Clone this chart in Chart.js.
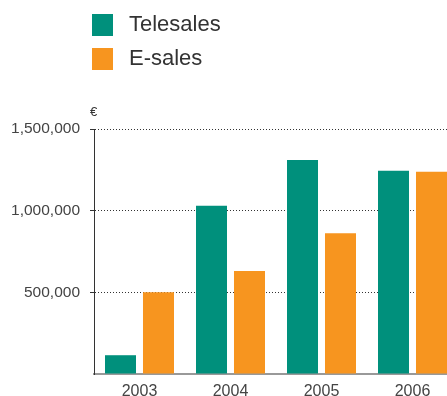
<!DOCTYPE html>
<html>
<head>
<meta charset="utf-8">
<script src="https://cdn.jsdelivr.net/npm/chart.js@4/dist/chart.umd.min.js"></script>
<style>
  html, body { margin: 0; padding: 0; background: #fff; }
  #wrap { position: relative; width: 447px; height: 396px; overflow: hidden; }
  #chart { position: absolute; left: 0; top: 0; }
  .key { position: absolute; left: 92px; width: 21px; height: 22px; }
  .lbl { position: absolute; left: 129px; font: 22px "Liberation Sans", Arial, sans-serif; color: #333; line-height: 22px; }
  #euro { position: absolute; left: 90px; top: 104px; font: 13px "Liberation Sans", Arial, sans-serif; color: #333; }
</style>
</head>
<body>
<div id="wrap">
  <canvas id="chart" width="460" height="396"></canvas>
  <div class="key" style="top:14px;background:#00907c"></div>
  <div class="lbl" style="top:13px">Telesales</div>
  <div class="key" style="top:48px;background:#f7951f"></div>
  <div class="lbl" style="top:47px">E-sales</div>
  <div id="euro">€</div>
</div>
<script>
// 데이터
var years = ['2003', '2004', '2005', '2006'];
var telesales = [115000, 1030000, 1310000, 1245000];
var esales = [500000, 630000, 862000, 1238000];
var seriesNames = ['Telesales', 'E-sales'];

var ctx = document.getElementById('chart').getContext('2d');
var salesChart = new Chart(ctx, {
	type: 'bar',
	data: {
		labels: years,
		datasets: [{
			label: seriesNames[0],
			data: telesales,
			backgroundColor: '#00907c',
			barPercentage: 0.816,
			categoryPercentage: 0.835
		}, {
			label: seriesNames[1],
			data: esales,
			backgroundColor: '#f7951f',
			barPercentage: 0.816,
			categoryPercentage: 0.835
		}]
	},
	options: {
		responsive: false,
		animation: false,
		layout: { padding: { top: 129, right: 2, bottom: 0, left: 0 } },
		plugins: {
			legend: { display: false },
			tooltip: { enabled: false }
		},
		scales: {
			x: {
				grid: { display: false },
				border: { display: true, color: '#999', width: 2 },
				ticks: { color: '#444', padding: 0, font: { family: 'Liberation Sans', size: 16 } },
				afterFit: function(scale) { scale.height = 22; }
			},
			y: {
				min: 0,
				max: 1500000,
				border: { display: true, color: '#333', width: 1, dash: [1, 2] },
				grid: {
					tickLength: 4,
					color: function(c) { return c.tick && c.tick.value === 0 ? 'rgba(0,0,0,0)' : '#333'; }
				},
				ticks: {
					stepSize: 500000,
					padding: 10,
					color: '#444',
					font: { family: 'Liberation Sans', size: 15.5 },
					callback: function(v) { return v === 0 ? '' : v.toLocaleString('en-US'); }
				},
				afterFit: function(scale) { scale.width = 94; }
			}
		}
	}
});
</script>
</body>
</html>
